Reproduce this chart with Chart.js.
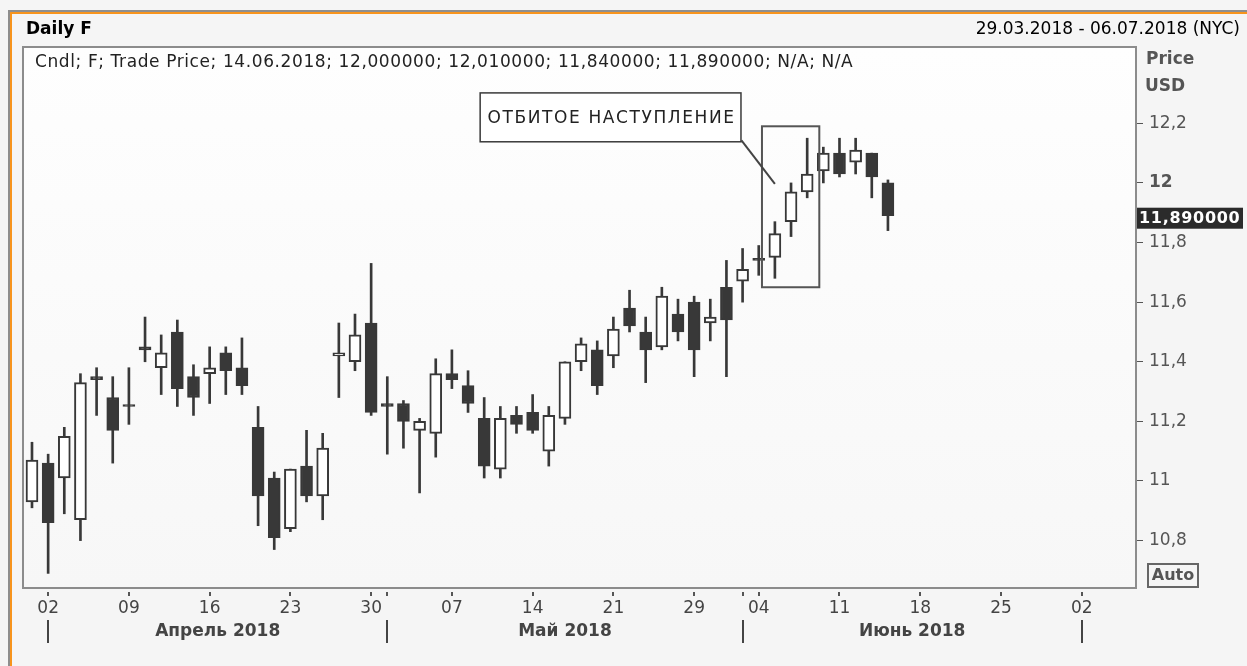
<!DOCTYPE html>
<html>
<head>
<meta charset="utf-8">
<script src="https://cdn.jsdelivr.net/npm/chart.js@4.4.1/dist/chart.umd.min.js"></script>
<style>
html,body{margin:0;padding:0;background:#f5f5f5;overflow:hidden}
#wrap{position:relative;width:1247px;height:666px}
</style>
</head>
<body>
<div id="wrap"><canvas id="c"></canvas></div>
<script>
// ---------------- DATA ----------------
const tradeDates = [
  '2018-03-29',
  '2018-04-02','2018-04-03','2018-04-04','2018-04-05','2018-04-06',
  '2018-04-09','2018-04-10','2018-04-11','2018-04-12','2018-04-13',
  '2018-04-16','2018-04-17','2018-04-18','2018-04-19','2018-04-20',
  '2018-04-23','2018-04-24','2018-04-25','2018-04-26','2018-04-27',
  '2018-04-30','2018-05-01','2018-05-02','2018-05-03','2018-05-04',
  '2018-05-07','2018-05-08','2018-05-09','2018-05-10','2018-05-11',
  '2018-05-14','2018-05-15','2018-05-16','2018-05-17','2018-05-18',
  '2018-05-21','2018-05-22','2018-05-23','2018-05-24','2018-05-25',
  '2018-05-29','2018-05-30','2018-05-31','2018-06-01',
  '2018-06-04','2018-06-05','2018-06-06','2018-06-07','2018-06-08',
  '2018-06-11','2018-06-12','2018-06-13','2018-06-14',
  // future (empty) sessions up to the end of the range
  '2018-06-15','2018-06-18','2018-06-19','2018-06-20','2018-06-21','2018-06-22',
  '2018-06-25','2018-06-26','2018-06-27','2018-06-28','2018-06-29',
  '2018-07-02','2018-07-03','2018-07-05','2018-07-06'
];
const openP  = [10.93,11.06,11.01,10.87,11.35,11.28,11.25,11.45,11.38,11.50,11.35,11.36,11.43,11.38,11.18,11.01,10.84,11.05,10.95,11.42,11.40,11.53,11.26,11.26,11.17,11.16,11.36,11.32,11.21,11.04,11.22,11.23,11.10,11.21,11.40,11.44,11.42,11.58,11.50,11.45,11.56,11.60,11.53,11.65,11.67,11.74,11.75,11.87,11.97,12.04,12.10,12.07,12.10,12.00];
const highP  = [11.13,11.09,11.18,11.36,11.38,11.35,11.38,11.55,11.49,11.54,11.39,11.45,11.45,11.48,11.25,11.03,11.04,11.17,11.16,11.53,11.56,11.73,11.35,11.27,11.21,11.41,11.44,11.37,11.28,11.25,11.25,11.29,11.25,11.40,11.48,11.47,11.55,11.64,11.55,11.65,11.61,11.62,11.61,11.74,11.78,11.79,11.87,12.00,12.15,12.12,12.15,12.15,12.10,12.01];
const lowP   = [10.91,10.69,10.89,10.80,11.22,11.06,11.19,11.40,11.29,11.25,11.22,11.26,11.29,11.29,10.85,10.77,10.83,10.93,10.87,11.28,11.37,11.22,11.09,11.11,10.96,11.08,11.31,11.23,11.01,11.01,11.16,11.16,11.05,11.19,11.37,11.29,11.38,11.50,11.33,11.44,11.47,11.35,11.47,11.35,11.60,11.69,11.68,11.82,11.95,12.00,12.02,12.03,11.95,11.84];
const closeP = [11.07,10.86,11.15,11.33,11.34,11.17,11.25,11.44,11.43,11.31,11.28,11.38,11.37,11.32,10.95,10.81,11.04,10.95,11.11,11.43,11.49,11.23,11.25,11.20,11.20,11.36,11.34,11.26,11.05,11.21,11.19,11.17,11.22,11.40,11.46,11.32,11.51,11.52,11.44,11.62,11.50,11.44,11.55,11.54,11.71,11.74,11.83,11.97,12.03,12.10,12.03,12.11,12.02,11.89];
const yTickValues = [10.8, 11, 11.2, 11.4, 11.6, 11.8, 12, 12.2];
const ruMonths = ['Январь','Февраль','Март','Апрель','Май','Июнь','Июль','Август','Сентябрь','Октябрь','Ноябрь','Декабрь'];
const headerTitle = 'Daily F';
const headerRange = '29.03.2018 - 06.07.2018 (NYC)';
const infoLine = 'Cndl; F; Trade Price; 14.06.2018; 12,000000; 12,010000; 11,840000; 11,890000; N/A; N/A';
const lastPriceLabel = '11,890000';
const calloutText = 'ОТБИТОЕ НАСТУПЛЕНИЕ';
const axisTitle = ['Price', 'USD'];
const autoLabel = 'Auto';

// annotation geometry in data coordinates (index, price)
const highlightBox = {x0: 45.2, x1: 48.75, y0: 12.19, y1: 11.65};
const calloutBox = {x0: 27.75, x1: 43.9, y0: 12.302, y1: 12.138};
const calloutLine = {x0: 43.93, y0: 12.143, x1: 46.0, y1: 11.997};

// ---------------- DERIVED ----------------
const dObj = tradeDates.map(s => new Date(s + 'T12:00:00Z'));
const weekKey = d => { const t = new Date(d); t.setUTCDate(t.getUTCDate() - ((t.getUTCDay() + 6) % 7)); return t.toISOString().slice(0,10); };
const weekStarts = [], monthStarts = [];
for (let i = 1; i < dObj.length; i++) {
  if (weekKey(dObj[i]) !== weekKey(dObj[i-1])) weekStarts.push(i);
  if (dObj[i].getUTCMonth() !== dObj[i-1].getUTCMonth()) monthStarts.push(i);
}
const dayLabel = {};
weekStarts.forEach(i => dayLabel[i] = String(dObj[i].getUTCDate()).padStart(2,'0'));

const DARK = '#383838';
const wickData = [], bodyData = [], bodyBg = [];
for (let i = 0; i < closeP.length; i++) {
  wickData.push({x: i, y: [lowP[i], highP[i]]});
  bodyData.push({x: i, y: [Math.min(openP[i], closeP[i]), Math.max(openP[i], closeP[i])]});
  bodyBg.push(closeP[i] > openP[i] ? '#ffffff' : DARK);
}

const FONT = '"DejaVu Sans", Verdana, sans-serif';
function spaced(ctx, px) { if ('letterSpacing' in ctx) ctx.letterSpacing = px + 'px'; }

const deco = {
  id: 'deco',
  beforeDraw(chart) {
    const ctx = chart.ctx, W = chart.width, H = chart.height, a = chart.chartArea;
    ctx.save();
    ctx.fillStyle = '#f5f5f5'; ctx.fillRect(0, 0, W, H);
    ctx.fillStyle = '#8e8e8e'; ctx.fillRect(8, 10, W - 8, 2); ctx.fillRect(8, 10, 2, H - 10);
    ctx.fillStyle = '#f7941d'; ctx.fillRect(10, 12, W - 10, 2); ctx.fillRect(10, 12, 2, H - 12);
    const g = ctx.createLinearGradient(0, a.top, 0, a.bottom);
    g.addColorStop(0, '#fefefe'); g.addColorStop(1, '#f7f7f7');
    ctx.fillStyle = g; ctx.fillRect(a.left, a.top, a.right - a.left, a.bottom - a.top);
    ctx.restore();
  },
  afterDatasetsDraw(chart) {
    const ctx = chart.ctx, a = chart.chartArea, xs = chart.scales.x, ys = chart.scales.y;
    ctx.save();
    // highlight rectangle
    const hx0 = xs.getPixelForValue(highlightBox.x0), hx1 = xs.getPixelForValue(highlightBox.x1);
    const hy0 = ys.getPixelForValue(highlightBox.y0), hy1 = ys.getPixelForValue(highlightBox.y1);
    ctx.strokeStyle = '#555'; ctx.lineWidth = 2;
    ctx.strokeRect(hx0, hy0, hx1 - hx0, hy1 - hy0);
    // callout line
    ctx.strokeStyle = '#444'; ctx.lineWidth = 2;
    ctx.beginPath();
    ctx.moveTo(xs.getPixelForValue(calloutLine.x0), ys.getPixelForValue(calloutLine.y0));
    ctx.lineTo(xs.getPixelForValue(calloutLine.x1), ys.getPixelForValue(calloutLine.y1));
    ctx.stroke();
    // callout box
    const cx0 = xs.getPixelForValue(calloutBox.x0), cx1 = xs.getPixelForValue(calloutBox.x1);
    const cy0 = ys.getPixelForValue(calloutBox.y0), cy1 = ys.getPixelForValue(calloutBox.y1);
    ctx.fillStyle = '#ffffff'; ctx.fillRect(cx0, cy0, cx1 - cx0, cy1 - cy0);
    ctx.strokeStyle = '#3a3a3a'; ctx.lineWidth = 1.5; ctx.strokeRect(cx0, cy0, cx1 - cx0, cy1 - cy0);
    ctx.fillStyle = '#222'; ctx.font = '17px ' + FONT; ctx.textAlign = 'center'; ctx.textBaseline = 'middle';
    spaced(ctx, 1.6);
    ctx.fillText(calloutText, (cx0 + cx1) / 2 + 1, (cy0 + cy1) / 2 + 1);
    spaced(ctx, 0);
    // plot frame
    ctx.strokeStyle = '#8c8c8c'; ctx.lineWidth = 2;
    ctx.strokeRect(a.left, a.top, a.right - a.left, a.bottom - a.top);
    ctx.restore();
  },
  afterDraw(chart) {
    const ctx = chart.ctx, a = chart.chartArea, xs = chart.scales.x, ys = chart.scales.y, W = chart.width;
    ctx.save();
    ctx.textBaseline = 'middle';
    // header
    ctx.fillStyle = '#000'; ctx.font = 'bold 17px ' + FONT; ctx.textAlign = 'left';
    ctx.fillText(headerTitle, 26, 30);
    ctx.font = '17px ' + FONT; ctx.textAlign = 'right';
    ctx.fillText(headerRange, W - 7, 30);
    // info line
    ctx.fillStyle = '#222'; ctx.font = '17px ' + FONT; ctx.textAlign = 'left';
    spaced(ctx, 0.6);
    ctx.fillText(infoLine, 35, 63);
    spaced(ctx, 0);
    // axis title
    ctx.fillStyle = '#555'; ctx.font = 'bold 17px ' + FONT;
    ctx.fillText(axisTitle[0], 1146, 60);
    ctx.fillText(axisTitle[1], 1145, 87);
    // last price label
    const py = ys.getPixelForValue(closeP[closeP.length - 1]);
    ctx.fillStyle = '#2b2b2b'; ctx.fillRect(a.right + 1, py - 8, W - a.right - 5, 21);
    ctx.fillStyle = '#fff'; ctx.font = 'bold 16px ' + FONT; ctx.textAlign = 'left';
    spaced(ctx, 0.7);
    ctx.fillText(lastPriceLabel, a.right + 3, py + 3);
    spaced(ctx, 0);
    // auto box
    ctx.strokeStyle = '#666'; ctx.lineWidth = 2; ctx.strokeRect(1148, 564, 50, 23);
    ctx.fillStyle = '#555'; ctx.font = 'bold 16px ' + FONT; ctx.textAlign = 'center';
    ctx.fillText(autoLabel, 1173, 576);
    // x tick marks
    ctx.fillStyle = '#555';
    const tickIdx = Array.from(new Set(weekStarts.concat(monthStarts)));
    tickIdx.forEach(i => { const x = Math.round(xs.getPixelForValue(i)); ctx.fillRect(x - 1, a.bottom + 4, 2, 4); });
    // month separators and labels
    ctx.fillStyle = '#444';
    monthStarts.forEach(i => { const x = Math.round(xs.getPixelForValue(i)); ctx.fillRect(x - 1, a.bottom + 32, 2, 23); });
    ctx.font = 'bold 17px ' + FONT; ctx.textAlign = 'center';
    for (let k = 0; k + 1 < monthStarts.length; k++) {
      const i0 = monthStarts[k], i1 = monthStarts[k + 1];
      const d = dObj[i0];
      const x = (xs.getPixelForValue(i0) + xs.getPixelForValue(i1)) / 2;
      ctx.fillText(ruMonths[d.getUTCMonth()] + ' ' + d.getUTCFullYear(), x, a.bottom + 44);
    }
    ctx.restore();
  }
};

new Chart(document.getElementById('c'), {
  type: 'bar',
  data: {
    datasets: [
      { label: 'body', data: bodyData, order: 0, grouped: false, barThickness: 12, minBarLength: 2,
        backgroundColor: bodyBg, borderColor: DARK, borderWidth: 2, borderSkipped: false },
      { label: 'wick', data: wickData, order: 1, grouped: false, barThickness: 2,
        backgroundColor: DARK, borderWidth: 0 }
    ]
  },
  options: {
    responsive: true, maintainAspectRatio: false, animation: false, devicePixelRatio: 1,
    layout: { padding: { left: 23, top: 47, right: 0, bottom: 0 } },
    plugins: { legend: { display: false }, tooltip: { enabled: false }, title: { display: false } },
    scales: {
      x: {
        type: 'linear', offset: false, min: -0.557, max: 68.36,
        grid: { display: false, drawTicks: false }, border: { display: false },
        afterBuildTicks: s => { s.ticks = weekStarts.map(v => ({ value: v })); },
        afterFit: s => { s.height = 78; },
        ticks: { autoSkip: false, maxRotation: 0, padding: 10, color: '#444',
          font: { family: FONT, size: 17 }, callback: v => dayLabel[v] || '' }
      },
      y: {
        type: 'linear', position: 'right', min: 10.641, max: 12.456,
        grid: { drawOnChartArea: false, drawTicks: true, tickLength: 7, color: '#555' },
        border: { display: false },
        afterBuildTicks: s => { s.ticks = yTickValues.map(v => ({ value: v })); },
        afterFit: s => { s.width = 111; },
        ticks: { padding: 6, color: '#555',
          font: c => ({ family: FONT, size: 17, weight: (c.tick && c.tick.value === 12) ? 'bold' : 'normal' }),
          callback: v => String(Math.round(v * 10) / 10).replace('.', ',') }
      }
    }
  },
  plugins: [deco]
});
</script>
</body>
</html>
